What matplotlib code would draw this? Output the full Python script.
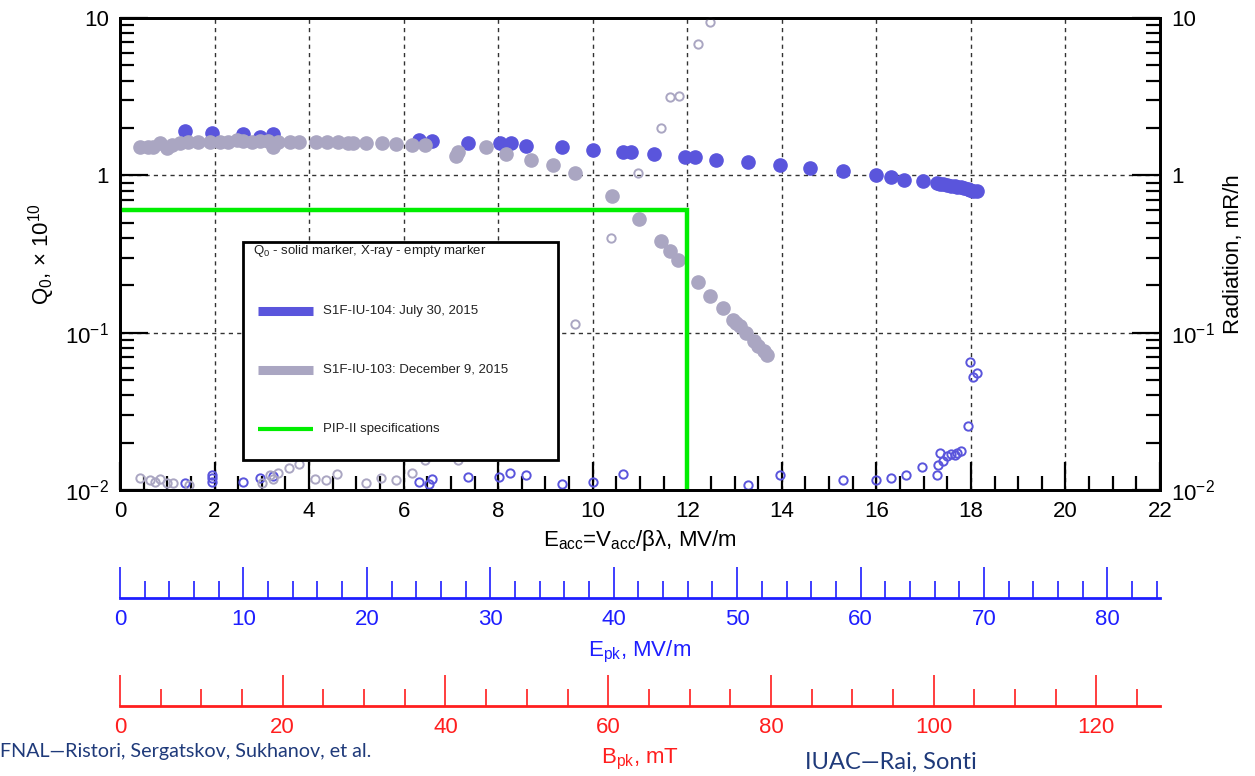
import numpy as np
import matplotlib
matplotlib.use('Agg')
import matplotlib.pyplot as plt
from matplotlib.patches import Rectangle
from matplotlib.lines import Line2D
from matplotlib.ticker import MultipleLocator, LogLocator, NullFormatter, FuncFormatter

plt.rcParams.update({
    'font.family': 'Liberation Sans',
    'mathtext.fontset': 'custom',
    'mathtext.rm': 'Liberation Sans',
    'mathtext.it': 'Liberation Sans:italic',
    'mathtext.bf': 'Liberation Sans:bold',
})

# ── Data ──────────────────────────────────────────────────────────────────
# S1F-IU-104, Q0 (solid)
blue_q_x = [1.37, 1.94, 2.60, 2.97, 3.24, 6.33, 6.59, 7.37, 8.04, 8.27, 8.59, 9.36,
            10.01, 10.65, 10.81, 11.30, 11.95, 12.16, 12.60, 13.29, 13.97, 14.60,
            15.29, 15.99, 16.31, 16.59, 16.98, 17.28, 17.35, 17.42, 17.50, 17.57,
            17.66, 17.71, 17.78, 17.85, 17.93, 17.98, 18.05, 18.12]
blue_q_y = [1.91, 1.85, 1.82, 1.76, 1.83, 1.68, 1.66, 1.61, 1.60, 1.60, 1.54, 1.52,
            1.45, 1.40, 1.40, 1.37, 1.31, 1.30, 1.26, 1.21, 1.16, 1.11,
            1.07, 1.00, 0.97, 0.94, 0.92, 0.89, 0.88, 0.875, 0.865, 0.86,
            0.85, 0.845, 0.84, 0.83, 0.82, 0.81, 0.80, 0.79]

# S1F-IU-103, Q0 (solid)
gray_q_x = [0.42, 0.60, 0.70, 0.85, 0.99, 1.09, 1.27, 1.44, 1.66, 1.90, 2.12, 2.29,
            2.47, 2.61, 2.79, 2.96, 3.14, 3.24, 3.35, 3.60, 3.79, 4.15, 4.37, 4.62,
            4.83, 4.92, 5.20, 5.54, 5.84, 6.17, 6.45, 7.10, 7.15, 7.74, 8.17, 8.69,
            9.17, 9.63, 10.40, 10.97, 11.44, 11.64, 11.81, 12.22, 12.48, 12.75,
            12.97, 13.04, 13.12, 13.24, 13.42, 13.50, 13.62, 13.68]
gray_q_y = [1.51, 1.51, 1.52, 1.60, 1.49, 1.57, 1.60, 1.62, 1.64, 1.64, 1.64, 1.64,
            1.68, 1.66, 1.64, 1.65, 1.66, 1.52, 1.64, 1.64, 1.62, 1.64, 1.64, 1.62,
            1.61, 1.60, 1.61, 1.61, 1.58, 1.57, 1.57, 1.32, 1.40, 1.52, 1.36, 1.25,
            1.16, 1.03, 0.74, 0.53, 0.384, 0.332, 0.29, 0.209, 0.172, 0.143,
            0.121, 0.115, 0.110, 0.100, 0.088, 0.082, 0.077, 0.072]

# S1F-IU-104, X-ray (open)
blue_x_x = [1.37, 1.94, 1.94, 1.94, 2.60, 2.96, 3.24, 6.33, 6.54, 6.61, 7.37, 8.02,
            8.26, 8.58, 9.36, 10.00, 10.65, 13.29, 13.97, 15.29, 15.99, 16.31, 16.62,
            16.97, 17.28, 17.30, 17.35, 17.42, 17.50, 17.57, 17.66, 17.71, 17.78,
            17.93, 17.98, 18.05, 18.12]
blue_x_y = [0.0110, 0.0125, 0.0119, 0.0113, 0.0113, 0.0119, 0.0122, 0.0113, 0.0109,
            0.0117, 0.0121, 0.0121, 0.0129, 0.0125, 0.0109, 0.0113, 0.0126, 0.0107,
            0.0124, 0.0116, 0.0116, 0.0120, 0.0125, 0.0139, 0.0125, 0.0145, 0.0173,
            0.0153, 0.0164, 0.0169, 0.0167, 0.0173, 0.0178, 0.0256, 0.0648, 0.052,
            0.0556]

# S1F-IU-103, X-ray (open)
gray_x_x = [0.42, 0.63, 0.74, 0.85, 1.00, 1.13, 1.45, 3.00, 3.17, 3.24, 3.35, 3.58,
            3.79, 4.13, 4.36, 4.60, 5.20, 5.53, 5.84, 6.17, 6.45, 7.14, 9.63, 10.39,
            10.96, 11.44, 11.64, 11.83, 12.23, 12.49]
gray_x_y = [0.0119, 0.0116, 0.0112, 0.0118, 0.0110, 0.0110, 0.0107, 0.0110, 0.0124,
            0.0117, 0.0128, 0.0137, 0.0147, 0.0117, 0.0116, 0.0126, 0.0110, 0.0120,
            0.0116, 0.0128, 0.0155, 0.0155, 0.113, 0.40, 1.03, 1.99, 3.16, 3.2,
            6.8, 9.5]

# PIP-II specification
spec_x = [0, 12, 12]
spec_y = [0.6, 0.6, 0.01]

EPK_PER_EACC = 3.83
BPK_PER_EACC = 5.81

BLUE = '#5a55dc'
GRAY = '#aaa6c2'
GREEN = '#00ee00'

# ── Figure ────────────────────────────────────────────────────────────────
W, H = 1255, 776
fig = plt.figure(figsize=(W / 100, H / 100), dpi=100)
L, R, T, B = 120 / W, 1160 / W, 18 / H, 490 / H
ax = fig.add_axes([L, 1 - B, R - L, B - T])

ax.set_yscale('log')
ax.set_xlim(0, 22)
ax.set_ylim(0.01, 10)


def yfmt(v, pos):
    e = int(round(np.log10(v)))
    if e == 0:
        return '1'
    if e == 1:
        return '10'
    return r'$\mathregular{10^{%d}}$' % e


ax.xaxis.set_major_locator(MultipleLocator(2))
ax.xaxis.set_minor_locator(MultipleLocator(0.5))

ax.grid(True, which='major', color='#333333', linestyle=(0, (3, 3)), linewidth=1.0)

ax.plot(blue_q_x, blue_q_y, 'o', ms=9.5, color=BLUE, mec=BLUE, zorder=3)
ax.plot(blue_x_x, blue_x_y, 'o', ms=6, mfc='none', mec=BLUE, mew=1.4,
        zorder=3, clip_on=False)
ax.plot(gray_q_x, gray_q_y, 'o', ms=9.5, color=GRAY, mec=GRAY, zorder=4)
ax.plot(gray_x_x, gray_x_y, 'o', ms=6, mfc='none', mec=GRAY, mew=1.4,
        zorder=4, clip_on=False)
ax.plot(spec_x, spec_y, color=GREEN, lw=3.2, zorder=5, solid_joinstyle='miter')

ax2 = ax.twinx()
ax2.set_yscale('log')
ax2.set_ylim(0.01, 10)

for a in (ax, ax2):
    a.yaxis.set_major_locator(LogLocator(base=10, numticks=10))
    a.yaxis.set_minor_locator(LogLocator(base=10, subs=np.arange(2, 10), numticks=10))
    a.yaxis.set_minor_formatter(NullFormatter())
    a.yaxis.set_major_formatter(FuncFormatter(yfmt))
    for s in a.spines.values():
        s.set_linewidth(2)

ax.tick_params(which='both', direction='in', top=False, right=False,
               labelsize=16, width=1.6)
ax.tick_params(which='major', length=20, pad=8)
ax.tick_params(which='minor', length=10)
ax2.tick_params(which='both', direction='in', labelsize=16, width=1.6)
ax2.tick_params(which='major', length=20, pad=8)
ax2.tick_params(which='minor', length=10)

ax.set_xlabel(r'E$_{\mathrm{acc}}$=V$_{\mathrm{acc}}$/βλ, MV/m', fontsize=16, labelpad=4)
ax.set_ylabel(r'Q$_0$, × 10$^{10}$', fontsize=16, labelpad=6)
ax2.set_ylabel('Radiation, mR/h', fontsize=16, labelpad=6)

# ── Legend box ────────────────────────────────────────────────────────────
x0, x1 = (243 - 120) / 1040, (558 - 120) / 1040
yb, yt = (490 - 460) / 472, (490 - 242) / 472
ax.add_patch(Rectangle((x0, yb), x1 - x0, yt - yb, transform=ax.transAxes,
                       facecolor='white', edgecolor='black', lw=2, zorder=10))
ax.text((253 - 120) / 1040, (490 - 251) / 472,
        r'Q$_0$ - solid marker, X-ray - empty marker', transform=ax.transAxes,
        fontsize=9.5, color='#222222', va='center', ha='left', zorder=11)
legend_items = [
    ('S1F-IU-104: July 30, 2015', BLUE, 6.5, 310.7),
    ('S1F-IU-103: December 9, 2015', GRAY, 6.5, 370),
    ('PIP-II specifications', GREEN, 3.0, 429.3),
]
for label, col, lw, py in legend_items:
    yy = (490 - py) / 472
    ax.add_line(Line2D([(258 - 120) / 1040, (313 - 120) / 1040], [yy, yy],
                       transform=ax.transAxes, color=col, lw=lw,
                       solid_capstyle='butt', zorder=11))
    ax.text((323 - 120) / 1040, yy, label, transform=ax.transAxes,
            fontsize=9.5, color='#222222', va='center', ha='left', zorder=11)


# ── Peak field scales ─────────────────────────────────────────────────────
def add_scale(py, factor, major, minor, color, label):
    sax = fig.add_axes([L, 1 - py / H, R - L, 0.0005])
    sax.set_xlim(0, 22 * factor)
    sax.set_facecolor('none')
    for k in ('left', 'right', 'top'):
        sax.spines[k].set_visible(False)
    sax.spines['bottom'].set_color(color)
    sax.spines['bottom'].set_linewidth(2)
    sax.set_yticks([])
    sax.xaxis.set_major_locator(MultipleLocator(major))
    sax.xaxis.set_minor_locator(MultipleLocator(minor))
    sax.tick_params(which='both', direction='in', color=color, labelcolor=color,
                    labelsize=16, width=1.2)
    sax.tick_params(which='major', length=22, pad=8)
    sax.tick_params(which='minor', length=12)
    sax.set_xlabel(label, fontsize=16, color=color, labelpad=6)
    return sax


add_scale(598, EPK_PER_EACC, 10, 2, '#1e1eff', r'E$_{\mathrm{pk}}$, MV/m')
add_scale(706, BPK_PER_EACC, 20, 5, '#ff1e1e', r'B$_{\mathrm{pk}}$, mT')

fig.text(0.0, 1 - 752 / H, 'FNAL—Ristori, Sergatskov, Sukhanov, et al.',
         fontsize=14.2, color='#1f3a7a', family='Lato', va='center', ha='left')
fig.text(805 / W, 1 - 762 / H, 'IUAC—Rai, Sonti',
         fontsize=17, color='#1f3a7a', family='Lato', va='center', ha='left')

fig.savefig('out.png', dpi=100)
